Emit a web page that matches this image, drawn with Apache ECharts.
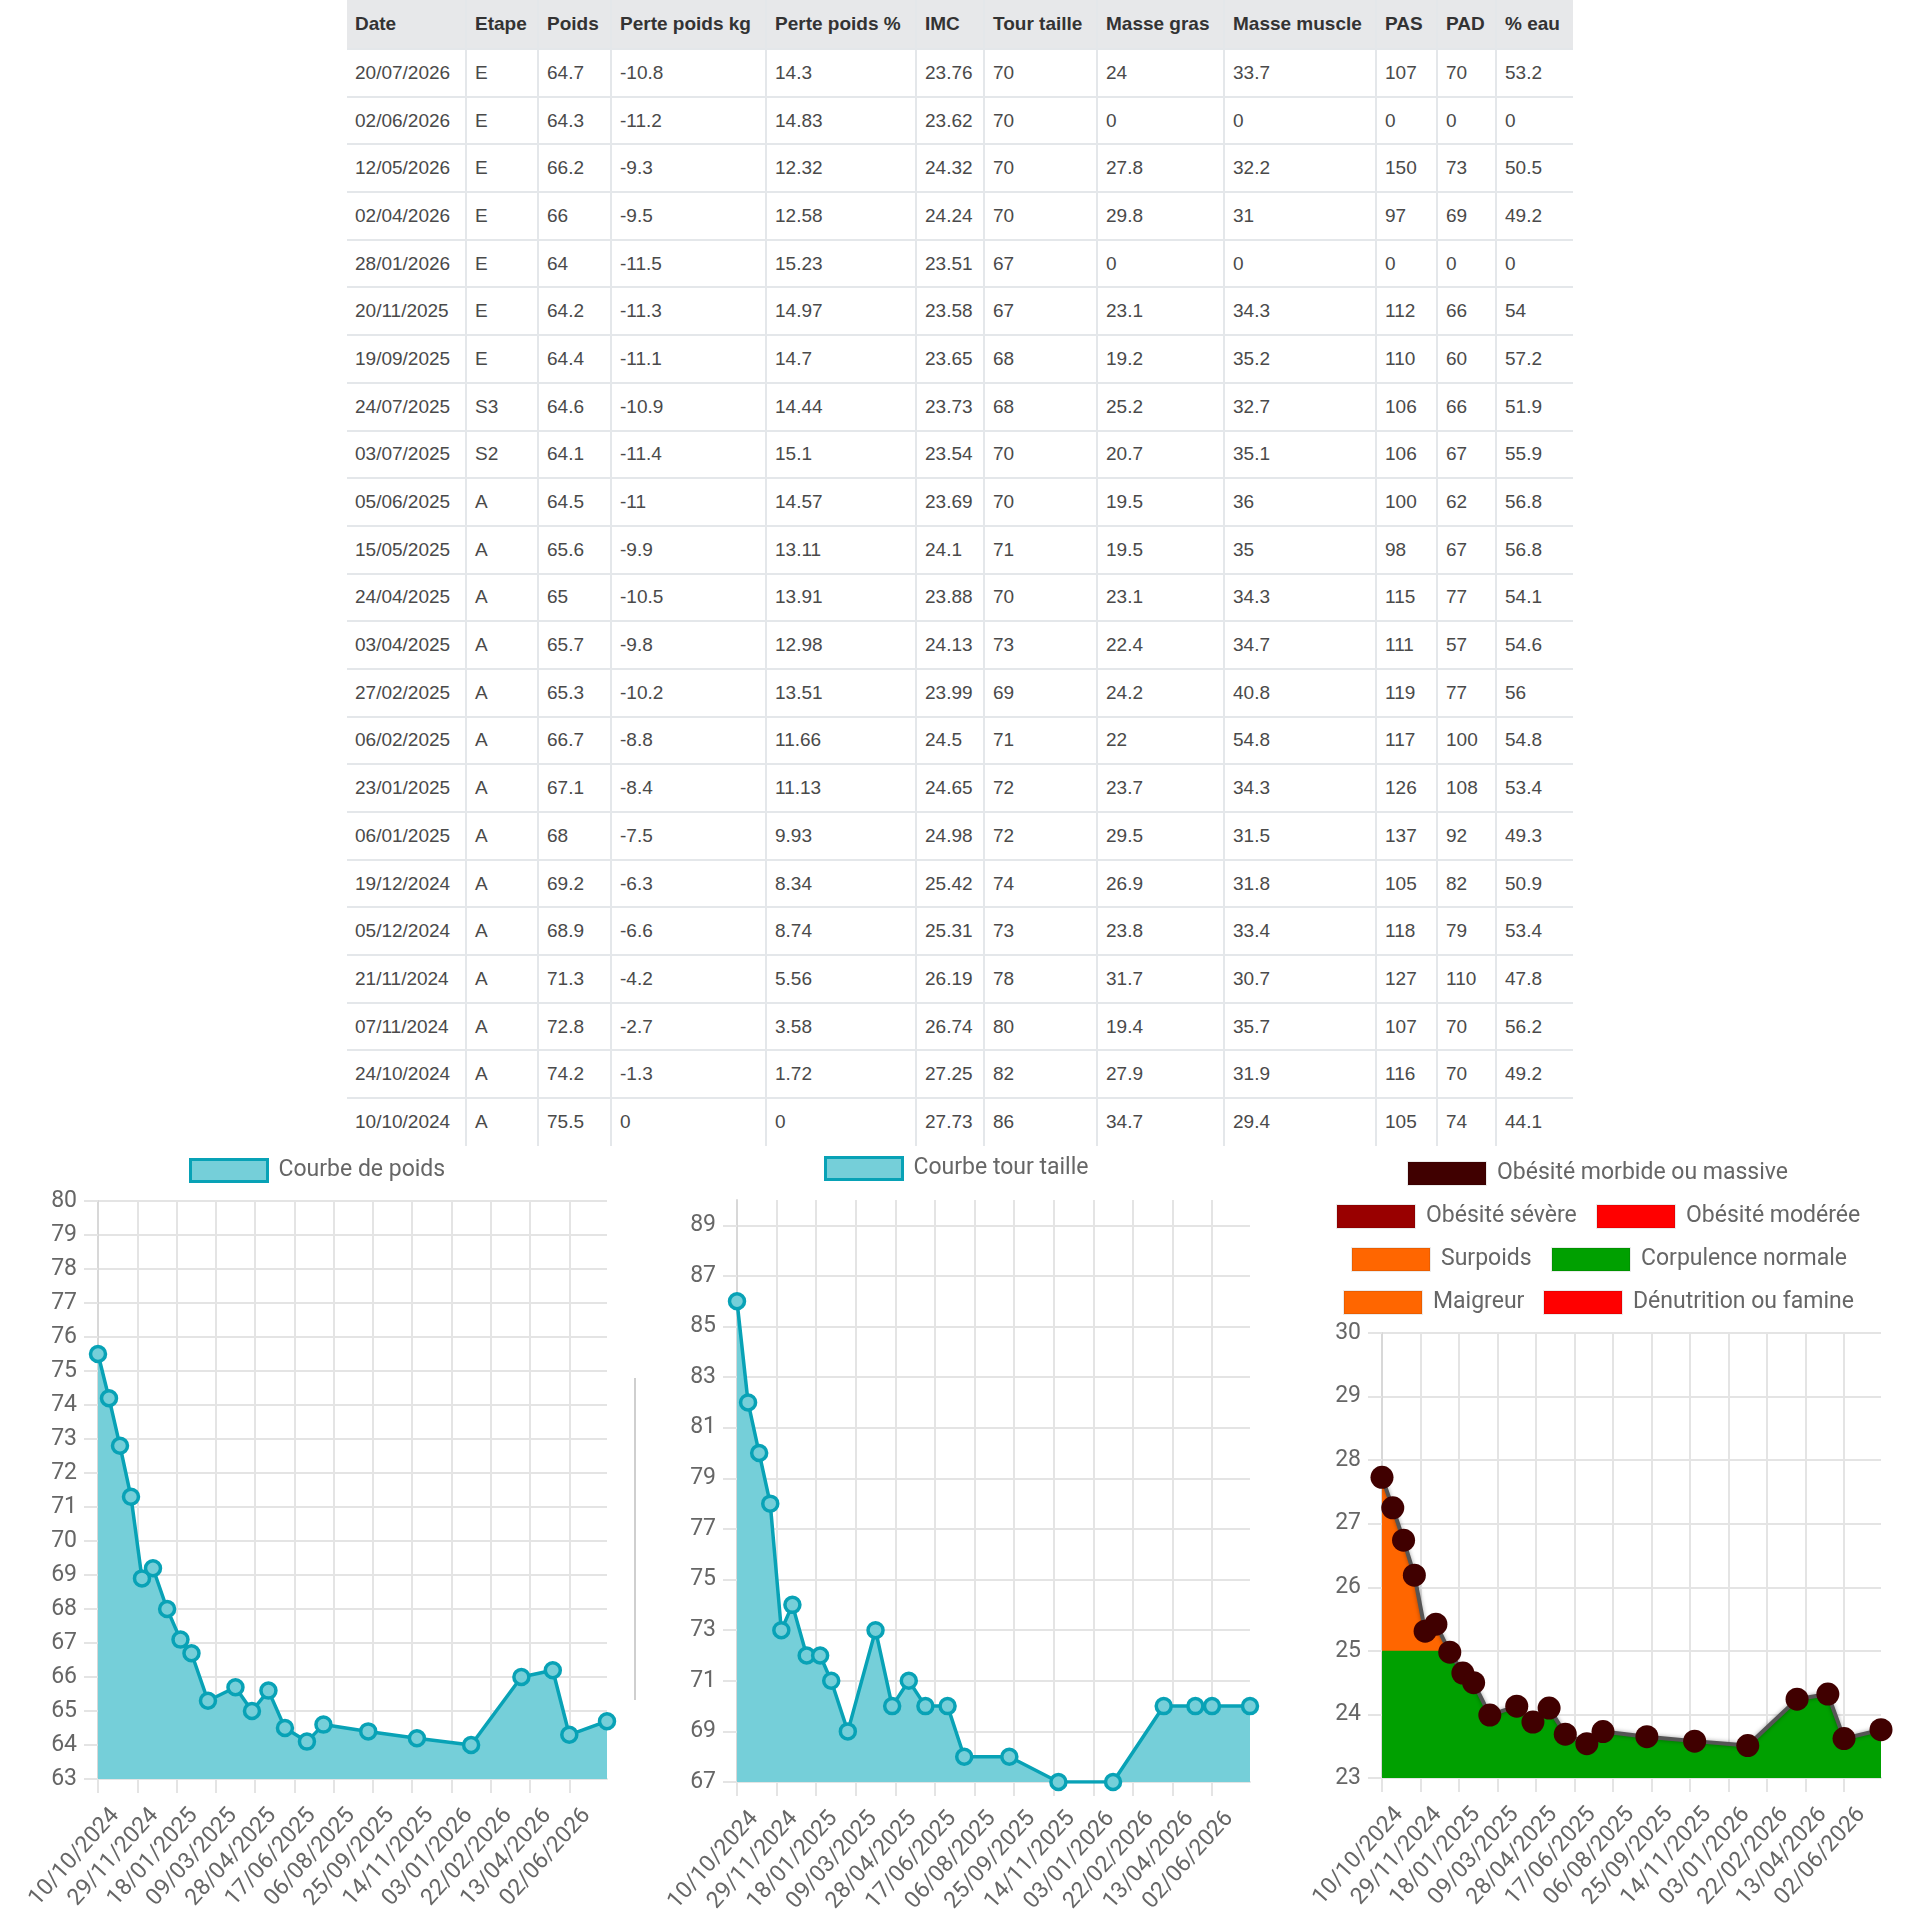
<!DOCTYPE html>
<html>
<head>
<meta charset="utf-8">
<script src="https://cdn.jsdelivr.net/npm/echarts@6/dist/echarts.min.js"></script>
<style>
  html, body { margin: 0; padding: 0; background: #fff; }
  #chart { position: absolute; left: 0; top: 0; width: 1920px; height: 1920px; }
  #tbl { position: absolute; left: 347px; top: 0; z-index: 2; border-collapse: collapse; table-layout: fixed;
         font-family: "Liberation Sans", Arial, sans-serif; font-size: 19px; color: #4a4a4a; background: #fff; }
  #tbl th { background: #e7e8ea; color: #333; font-weight: bold; text-align: left; height: 49px; padding: 0 0 0 8px;
            border: 2px solid #e4e7ea; box-sizing: border-box; }
  #tbl td { height: 47.7px; padding: 0 0 0 8px; border: 2px solid #e4e7ea; box-sizing: border-box; white-space: nowrap; }
  #tbl tr:last-child td { border-bottom: none; }
  #tbl tr th:first-child, #tbl tr td:first-child { border-left: none; }
  #tbl tr th:last-child, #tbl tr td:last-child { border-right: none; }
  #tbl th { border-top: none; }
</style>
</head>
<body>
<div id="chart"></div>
<table id="tbl"></table>
<script>
// ---------------- DATA (table order: most recent first) ----------------
const headers = ["Date", "Etape", "Poids", "Perte poids kg", "Perte poids %", "IMC", "Tour taille", "Masse gras", "Masse muscle", "PAS", "PAD", "% eau"];
const dates = ["20/07/2026","02/06/2026","12/05/2026","02/04/2026","28/01/2026","20/11/2025","19/09/2025","24/07/2025","03/07/2025","05/06/2025","15/05/2025","24/04/2025","03/04/2025","27/02/2025","06/02/2025","23/01/2025","06/01/2025","19/12/2024","05/12/2024","21/11/2024","07/11/2024","24/10/2024","10/10/2024"];
const etapes = ["E","E","E","E","E","E","E","S3","S2","A","A","A","A","A","A","A","A","A","A","A","A","A","A"];
const poids = [64.7,64.3,66.2,66,64,64.2,64.4,64.6,64.1,64.5,65.6,65,65.7,65.3,66.7,67.1,68,69.2,68.9,71.3,72.8,74.2,75.5];
const pertePoidsKg = [-10.8,-11.2,-9.3,-9.5,-11.5,-11.3,-11.1,-10.9,-11.4,-11,-9.9,-10.5,-9.8,-10.2,-8.8,-8.4,-7.5,-6.3,-6.6,-4.2,-2.7,-1.3,0];
const pertePoidsPct = [14.3,14.83,12.32,12.58,15.23,14.97,14.7,14.44,15.1,14.57,13.11,13.91,12.98,13.51,11.66,11.13,9.93,8.34,8.74,5.56,3.58,1.72,0];
const imc = [23.76,23.62,24.32,24.24,23.51,23.58,23.65,23.73,23.54,23.69,24.1,23.88,24.13,23.99,24.5,24.65,24.98,25.42,25.31,26.19,26.74,27.25,27.73];
const tourTaille = [70,70,70,70,67,67,68,68,70,70,71,70,73,69,71,72,72,74,73,78,80,82,86];
const masseGras = [24,0,27.8,29.8,0,23.1,19.2,25.2,20.7,19.5,19.5,23.1,22.4,24.2,22,23.7,29.5,26.9,23.8,31.7,19.4,27.9,34.7];
const masseMuscle = [33.7,0,32.2,31,0,34.3,35.2,32.7,35.1,36,35,34.3,34.7,40.8,54.8,34.3,31.5,31.8,33.4,30.7,35.7,31.9,29.4];
const pas = [107,0,150,97,0,112,110,106,106,100,98,115,111,119,117,126,137,105,118,127,107,116,105];
const pad = [70,0,73,69,0,66,60,66,67,62,67,77,57,77,100,108,92,82,79,110,70,70,74];
const eau = [53.2,0,50.5,49.2,0,54,57.2,51.9,55.9,56.8,56.8,54.1,54.6,56,54.8,53.4,49.3,50.9,53.4,47.8,56.2,49.2,44.1];

const legendPoids = "Courbe de poids";
const legendTaille = "Courbe tour taille";
const imcCategories = ["Obésité morbide ou massive","Obésité sévère","Obésité modérée","Surpoids","Corpulence normale","Maigreur","Dénutrition ou famine"];
const imcColors = ["#400000","#990000","#ff0000","#ff6600","#00a000","#ff6600","#ff0000"];
const imcAxis = [23, 30];
const imcNormalLimit = 25;

// ---------------- TABLE ----------------
const colWidths = [119,72,73,155,150,68,113,127,152,61,59,77];
const tbl = document.getElementById('tbl');
let html = '<colgroup>' + colWidths.map(w => '<col style="width:' + w + 'px">').join('') + '</colgroup>';
html += '<tr>' + headers.map(h => '<th>' + h + '</th>').join('') + '</tr>';
const cols = [dates, etapes, poids, pertePoidsKg, pertePoidsPct, imc, tourTaille, masseGras, masseMuscle, pas, pad, eau];
for (let i = 0; i < dates.length; i++) {
  html += '<tr>' + cols.map(c => '<td>' + c[i] + '</td>').join('') + '</tr>';
}
tbl.innerHTML = html;
tbl.style.width = colWidths.reduce((a, b) => a + b, 0) + 'px';

// ---------------- CHARTS ----------------
const base = Date.UTC(2024, 9, 10);
function toDay(s) { const p = s.split('/').map(Number); return Math.round((Date.UTC(p[2], p[1] - 1, p[0]) - base) / 86400000); }
function fmt(v) {
  const d = new Date(base + v * 86400000);
  const dd = String(d.getUTCDate()).padStart(2, '0'), mm = String(d.getUTCMonth() + 1).padStart(2, '0');
  return dd + '/' + mm + '/' + d.getUTCFullYear();
}
const chrono = dates.map((d, i) => i).reverse();
const days = chrono.map(i => toDay(dates[i]));
const xMax = toDay(dates[0]);
const poidsData = chrono.map((i, k) => [days[k], poids[i]]);
const tailleData = chrono.map((i, k) => [days[k], tourTaille[i]]);
const imcData = chrono.map((i, k) => [days[k], imc[i]]);

const FONT = 'Roboto';
const FS = 23;
const gridColor = '#e4e4e4';
function xAxisFor(g, hidden) {
  if (hidden) return { type: 'value', gridIndex: g, min: 0, max: xMax, show: false };
  return {
    type: 'value', gridIndex: g, min: 0, max: xMax, interval: 50,
    axisLine: { show: true, lineStyle: { color: gridColor, width: 2 } },
    axisTick: { show: true, length: 14, lineStyle: { color: gridColor, width: 2 } },
    splitLine: { show: true, showMaxLine: false, lineStyle: { color: gridColor, width: 2 } },
    axisLabel: { rotate: 48, margin: 52, padding: [0, -26, 0, 0], fontSize: FS, color: '#666', fontFamily: FONT, showMaxLabel: false,
                 formatter: v => v > 600 ? '' : fmt(v) }
  };
}
function yAxisFor(g, min, max, interval, hideMax) {
  return {
    type: 'value', gridIndex: g, min: min, max: max, interval: interval,
    axisLine: { show: true, lineStyle: { color: '#d8d8d8', width: 2 } },
    axisTick: { show: true, length: 14, lineStyle: { color: gridColor, width: 2 } },
    splitLine: { show: true, showMaxLine: !hideMax, lineStyle: { color: gridColor, width: 2 } },
    axisLabel: { margin: 21, fontSize: FS, color: '#666', fontFamily: FONT, showMaxLabel: !hideMax }
  };
}
const teal = '#08a2b6', tealFill = '#75cfd9';
function tealSeries(name, data, g) {
  return {
    name: name, type: 'line', xAxisIndex: g, yAxisIndex: g, data: data,
    symbol: 'circle', symbolSize: 15, showSymbol: true,
    lineStyle: { color: teal, width: 3.5 },
    itemStyle: { color: tealFill, borderColor: teal, borderWidth: 3.5 },
    areaStyle: { color: tealFill, opacity: 1 },
    emphasis: { disabled: true }, z: 2
  };
}
const legendText = { fontSize: FS, color: '#666', fontFamily: FONT, padding: [0, 0, 0, 6] };
function legendFor(name, color, border, bw, left, top, w, h) {
  return {
    left: left, top: top, itemWidth: w, itemHeight: h, icon: 'rect', selectedMode: false,
    textStyle: legendText, padding: 0,
    data: [{ name: name, icon: 'rect', itemStyle: { color: color, borderColor: border, borderWidth: bw } }]
  };
}
const legendPos3 = [[1407, 1161], [1336, 1204], [1596, 1204], [1351, 1247], [1551, 1247], [1343, 1290], [1543, 1290]];

// grid 2 geometry; grid 3 is the part of grid 2 below the "normal" limit (used to clip the green area)
const g2 = { left: 1382, top: 1333, width: 499, height: 445 };
const pxPerUnit = g2.height / (imcAxis[1] - imcAxis[0]);
const g3 = { left: g2.left, width: g2.width, top: g2.top + (imcAxis[1] - imcNormalLimit) * pxPerUnit,
             height: (imcNormalLimit - imcAxis[0]) * pxPerUnit };

const series = [
  tealSeries(legendPoids, poidsData, 0),
  tealSeries(legendTaille, tailleData, 1),
  { name: 'Surpoids', type: 'line', xAxisIndex: 2, yAxisIndex: 2, data: imcData, showSymbol: false,
    lineStyle: { width: 0 }, areaStyle: { color: '#ff6600', opacity: 1 }, itemStyle: { color: '#ff6600' }, z: 1, emphasis: { disabled: true } },
  { name: 'Corpulence normale', type: 'line', xAxisIndex: 3, yAxisIndex: 3, data: imcData, showSymbol: false, clip: true,
    lineStyle: { width: 0 }, areaStyle: { color: '#00a000', opacity: 1 }, itemStyle: { color: '#00a000' }, z: 2, emphasis: { disabled: true } },
  { name: 'Obésité morbide ou massive', type: 'line', xAxisIndex: 2, yAxisIndex: 2, data: imcData,
    symbol: 'circle', symbolSize: 23, showSymbol: true,
    lineStyle: { color: '#555', width: 4, shadowBlur: 4, shadowColor: 'rgba(0,0,0,0.35)' },
    itemStyle: { color: '#400000' }, z: 3, emphasis: { disabled: true } }
];
['Obésité sévère', 'Obésité modérée', 'Maigreur', 'Dénutrition ou famine'].forEach(n => {
  series.push({ name: n, type: 'line', xAxisIndex: 2, yAxisIndex: 2, data: [] });
});

const legends = [
  legendFor(legendPoids, tealFill, teal, 3, 189, 1158, 77, 22),
  legendFor(legendTaille, tealFill, teal, 3, 824, 1156, 77, 22)
];
imcCategories.forEach((n, i) => {
  legends.push(legendFor(n, imcColors[i], 'rgba(0,0,0,0.08)', 2, legendPos3[i][0], legendPos3[i][1], 78, 23));
});

const option = {
  animation: false,
  textStyle: { fontFamily: FONT },
  grid: [
    { left: 98, top: 1201, width: 509, height: 578 },
    { left: 737, top: 1200, width: 513, height: 582 },
    g2,
    g3
  ],
  xAxis: [xAxisFor(0), xAxisFor(1), xAxisFor(2), xAxisFor(3, true)],
  yAxis: [yAxisFor(0, 63, 80, 1), yAxisFor(1, 67, 90, 2, true), yAxisFor(2, imcAxis[0], imcAxis[1], 1),
          { type: 'value', gridIndex: 3, min: imcAxis[0], max: imcNormalLimit, show: false }],
  legend: legends,
  graphic: [{ type: 'rect', left: 634, top: 1378, shape: { width: 2, height: 322 }, style: { fill: '#cfcfcf' } }],
  series: series
};
const chart = echarts.init(document.getElementById('chart'));
chart.setOption(option);
</script>
</body>
</html>
